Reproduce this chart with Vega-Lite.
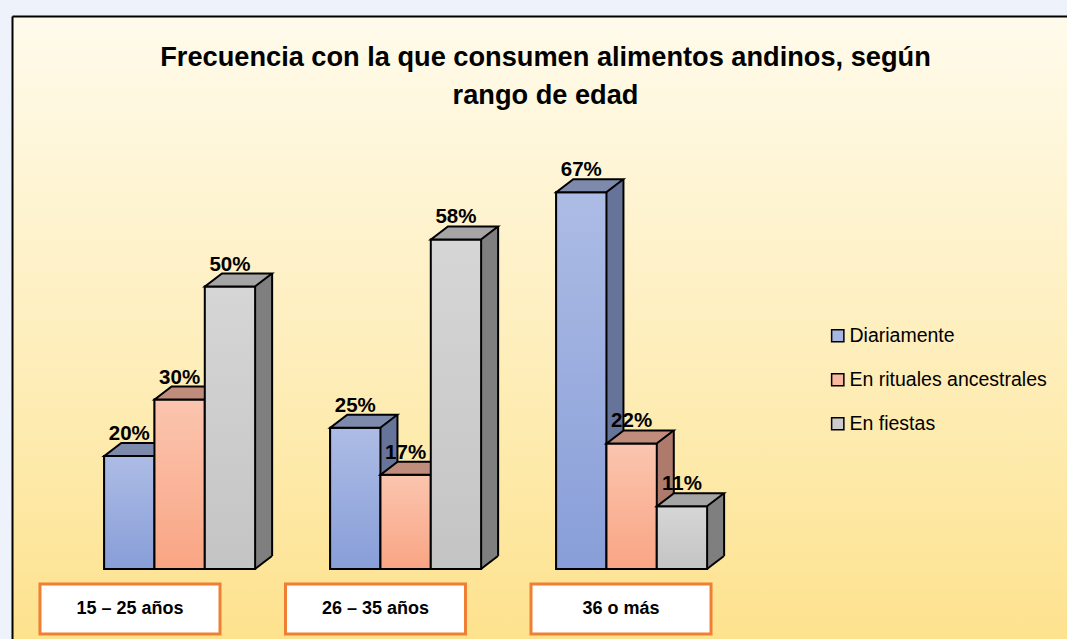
{
  "$schema": "https://vega.github.io/schema/vega-lite/v6.json",
  "width": 1055,
  "height": 623,
  "autosize": "none",
  "padding": {"left": 12, "top": 16, "right": 0, "bottom": 0},
  "background": "#eef3fb",
  "view": {
    "stroke": null,
    "fill": {"gradient": "linear", "x1": 0, "y1": 0, "x2": 0, "y2": 1,
      "stops": [{"offset": 0, "color": "#fffbec"}, {"offset": 0.5, "color": "#feefbf"}, {"offset": 1, "color": "#fde28e"}]}
  },
  "title": {
    "text": ["Frecuencia con la que consumen alimentos andinos, según", "rango de edad"],
    "font": "Liberation Sans", "fontSize": 27.2, "fontWeight": "bold", "color": "#000000",
    "lineHeight": 38, "anchor": "middle", "frame": "group", "dx": 6, "offset": -94
  },
  "data": {"values": [
    {"grupo": "15 – 25 años", "serie": "Diariamente", "valor": 0.20},
    {"grupo": "15 – 25 años", "serie": "En rituales ancestrales", "valor": 0.30},
    {"grupo": "15 – 25 años", "serie": "En fiestas", "valor": 0.50},
    {"grupo": "26 – 35 años", "serie": "Diariamente", "valor": 0.25},
    {"grupo": "26 – 35 años", "serie": "En rituales ancestrales", "valor": 0.1667},
    {"grupo": "26 – 35 años", "serie": "En fiestas", "valor": 0.5833},
    {"grupo": "36 o más", "serie": "Diariamente", "valor": 0.6667},
    {"grupo": "36 o más", "serie": "En rituales ancestrales", "valor": 0.2222},
    {"grupo": "36 o más", "serie": "En fiestas", "valor": 0.1111}
  ]},
  "resolve": {"scale": {"x": "independent", "xOffset": "independent"}},
  "layer": [
    {
      "data": {"values": [{"grupo": "15 – 25 años"}, {"grupo": "26 – 35 años"}, {"grupo": "36 o más"}]},
      "encoding": {
        "x": {"field": "grupo", "type": "nominal", "axis": null,
          "scale": {"domain": ["15 – 25 años", "26 – 35 años", "36 o más"], "paddingInner": 0.2668, "paddingOuter": 0.782, "align": 0.0729}}
      },
      "layer": [
        {"mark": {"type": "bar", "fill": "#ffffff", "stroke": "#ef7f33", "strokeWidth": 3},
         "encoding": {"y": {"datum": -0.02655, "type": "quantitative", "scale": {"domain": [-0.1239, 0.9788], "nice": false, "zero": false},
           "axis": {"orient": "left", "domain": true, "domainColor": "#000000", "domainWidth": 2, "labels": false, "ticks": false, "title": null, "grid": false}},
           "y2": {"datum": -0.115}}},
        {"mark": {"type": "text", "font": "Liberation Sans", "fontSize": 18, "fontWeight": "bold", "color": "#000000", "baseline": "middle"},
         "encoding": {"y": {"datum": -0.0708, "type": "quantitative"}, "text": {"field": "grupo"}}}
      ]
    },
    {
      "encoding": {
        "x": {"field": "grupo", "type": "nominal",
          "axis": {"orient": "top", "domain": true, "domainColor": "#000000", "domainWidth": 2, "labels": false, "ticks": false, "title": null, "grid": false},
          "scale": {"domain": ["15 – 25 años", "26 – 35 años", "36 o más"], "paddingInner": 0.3318, "paddingOuter": 1, "align": 0.2038}},
        "y": {"field": "valor", "type": "quantitative",
          "axis": {"orient": "left", "domain": true, "domainColor": "#000000", "domainWidth": 2, "labels": false, "ticks": false, "title": null, "grid": false}}
      },
      "layer": [
        {"mark": {"type": "bar", "stroke": "#000000", "strokeWidth": 1.5},
         "encoding": {
           "xOffset": {"field": "serie", "type": "nominal", "scale": {"domain": ["Diariamente", "En rituales ancestrales", "En fiestas"], "paddingInner": 0, "paddingOuter": 0}},
           "fill": {"field": "serie", "type": "nominal",
           "scale": {"domain": ["Diariamente", "En rituales ancestrales", "En fiestas"], "range": ["#a8b7e1", "#f9b9a1", "#cccccc"]},
           "legend": {"title": null, "orient": "none", "legendX": 816, "legendY": 310, "padding": 0,
             "symbolType": "square", "symbolSize": 150, "symbolStrokeColor": "#000000", "symbolStrokeWidth": 1.5,
             "labelFont": "Liberation Sans", "labelFontSize": 19.5, "labelColor": "#000000", "labelOffset": 2, "labelLimit": 400, "rowPadding": 23}}}},

        {"transform": [{"filter": "datum.serie == 'Diariamente'"}],
         "mark": {"type": "rule", "color": "#67749a", "strokeWidth": 17, "strokeCap": "butt", "xOffset": 8.5, "yOffset": -13, "y2Offset": -13},
         "encoding": {"x": {"field": "grupo", "type": "nominal", "bandPosition": 0.33333}, "y2": {"datum": 0}}},
        {"transform": [{"filter": "datum.serie == 'Diariamente'"}],
         "mark": {"type": "rule", "color": "#000000", "strokeWidth": 2, "strokeCap": "butt", "xOffset": 17, "yOffset": -13, "y2Offset": -13},
         "encoding": {"x": {"field": "grupo", "type": "nominal", "bandPosition": 0.33333}, "y2": {"datum": 0}}},
        {"transform": [{"filter": "datum.serie == 'Diariamente'"}],
         "mark": {"type": "point", "shape": "M 0.49 0.01 L 0.84 -0.26 L 0.83 -0.27 L 0.49 -0.27 Z", "size": 10000, "filled": true, "fill": "#67749a", "stroke": "transparent", "strokeWidth": 0, "opacity": 1},
         "encoding": {"xOffset": {"field": "serie", "type": "nominal"}, "y": {"datum": 0, "type": "quantitative"}}},
        {"transform": [{"filter": "datum.serie == 'Diariamente'"}],
         "mark": {"type": "point", "shape": "M 0.5 0 L 0.84 -0.26", "size": 10000, "filled": false, "fill": "transparent", "stroke": "#000000", "strokeWidth": 2, "opacity": 1},
         "encoding": {"xOffset": {"field": "serie", "type": "nominal"}, "y": {"datum": 0, "type": "quantitative"}}},
        {"transform": [{"filter": "datum.serie == 'Diariamente'"}],
         "mark": {"type": "bar", "stroke": "#000000", "strokeWidth": 2,
           "fill": {"gradient": "linear", "x1": 0, "y1": 0, "x2": 0, "y2": 1, "stops": [{"offset": 0, "color": "#adbce5"}, {"offset": 1, "color": "#889ed8"}]}},
         "encoding": {"xOffset": {"field": "serie", "type": "nominal"}}},
        {"transform": [{"filter": "datum.serie == 'Diariamente'"}],
         "mark": {"type": "point", "shape": "M -0.5 0 L 0.5 0 L 0.84 -0.26 L -0.16 -0.26 Z", "size": 10000, "filled": true, "fill": "#7d8aab", "stroke": "#000000", "strokeWidth": 2, "opacity": 1, "strokeJoin": "miter"},
         "encoding": {"xOffset": {"field": "serie", "type": "nominal"}}},

        {"transform": [{"filter": "datum.serie == 'En rituales ancestrales'"}],
         "mark": {"type": "rule", "color": "#ad7a6c", "strokeWidth": 17, "strokeCap": "butt", "xOffset": 8.5, "yOffset": -13, "y2Offset": -13},
         "encoding": {"x": {"field": "grupo", "type": "nominal", "bandPosition": 0.66667}, "y2": {"datum": 0}}},
        {"transform": [{"filter": "datum.serie == 'En rituales ancestrales'"}],
         "mark": {"type": "rule", "color": "#000000", "strokeWidth": 2, "strokeCap": "butt", "xOffset": 17, "yOffset": -13, "y2Offset": -13},
         "encoding": {"x": {"field": "grupo", "type": "nominal", "bandPosition": 0.66667}, "y2": {"datum": 0}}},
        {"transform": [{"filter": "datum.serie == 'En rituales ancestrales'"}],
         "mark": {"type": "point", "shape": "M 0.49 0.01 L 0.84 -0.26 L 0.83 -0.27 L 0.49 -0.27 Z", "size": 10000, "filled": true, "fill": "#ad7a6c", "stroke": "transparent", "strokeWidth": 0, "opacity": 1},
         "encoding": {"xOffset": {"field": "serie", "type": "nominal"}, "y": {"datum": 0, "type": "quantitative"}}},
        {"transform": [{"filter": "datum.serie == 'En rituales ancestrales'"}],
         "mark": {"type": "point", "shape": "M 0.5 0 L 0.84 -0.26", "size": 10000, "filled": false, "fill": "transparent", "stroke": "#000000", "strokeWidth": 2, "opacity": 1},
         "encoding": {"xOffset": {"field": "serie", "type": "nominal"}, "y": {"datum": 0, "type": "quantitative"}}},
        {"transform": [{"filter": "datum.serie == 'En rituales ancestrales'"}],
         "mark": {"type": "bar", "stroke": "#000000", "strokeWidth": 2,
           "fill": {"gradient": "linear", "x1": 0, "y1": 0, "x2": 0, "y2": 1, "stops": [{"offset": 0, "color": "#fbc5af"}, {"offset": 1, "color": "#f9a584"}]}},
         "encoding": {"xOffset": {"field": "serie", "type": "nominal"}}},
        {"transform": [{"filter": "datum.serie == 'En rituales ancestrales'"}],
         "mark": {"type": "point", "shape": "M -0.5 0 L 0.5 0 L 0.84 -0.26 L -0.16 -0.26 Z", "size": 10000, "filled": true, "fill": "#c08d7c", "stroke": "#000000", "strokeWidth": 2, "opacity": 1, "strokeJoin": "miter"},
         "encoding": {"xOffset": {"field": "serie", "type": "nominal"}}},

        {"transform": [{"filter": "datum.serie == 'En fiestas'"}],
         "mark": {"type": "rule", "color": "#7f7f7f", "strokeWidth": 17, "strokeCap": "butt", "xOffset": 8.5, "yOffset": -13, "y2Offset": -13},
         "encoding": {"x": {"field": "grupo", "type": "nominal", "bandPosition": 1}, "y2": {"datum": 0}}},
        {"transform": [{"filter": "datum.serie == 'En fiestas'"}],
         "mark": {"type": "rule", "color": "#000000", "strokeWidth": 2, "strokeCap": "butt", "xOffset": 17, "yOffset": -13, "y2Offset": -13},
         "encoding": {"x": {"field": "grupo", "type": "nominal", "bandPosition": 1}, "y2": {"datum": 0}}},
        {"transform": [{"filter": "datum.serie == 'En fiestas'"}],
         "mark": {"type": "point", "shape": "M 0.49 0.01 L 0.84 -0.26 L 0.83 -0.27 L 0.49 -0.27 Z", "size": 10000, "filled": true, "fill": "#7f7f7f", "stroke": "transparent", "strokeWidth": 0, "opacity": 1},
         "encoding": {"xOffset": {"field": "serie", "type": "nominal"}, "y": {"datum": 0, "type": "quantitative"}}},
        {"transform": [{"filter": "datum.serie == 'En fiestas'"}],
         "mark": {"type": "point", "shape": "M 0.5 0 L 0.84 -0.26", "size": 10000, "filled": false, "fill": "transparent", "stroke": "#000000", "strokeWidth": 2, "opacity": 1},
         "encoding": {"xOffset": {"field": "serie", "type": "nominal"}, "y": {"datum": 0, "type": "quantitative"}}},
        {"transform": [{"filter": "datum.serie == 'En fiestas'"}],
         "mark": {"type": "bar", "stroke": "#000000", "strokeWidth": 2,
           "fill": {"gradient": "linear", "x1": 0, "y1": 0, "x2": 0, "y2": 1, "stops": [{"offset": 0, "color": "#d6d6d6"}, {"offset": 1, "color": "#c4c4c4"}]}},
         "encoding": {"xOffset": {"field": "serie", "type": "nominal"}}},
        {"transform": [{"filter": "datum.serie == 'En fiestas'"}],
         "mark": {"type": "point", "shape": "M -0.5 0 L 0.5 0 L 0.84 -0.26 L -0.16 -0.26 Z", "size": 10000, "filled": true, "fill": "#a5a5a5", "stroke": "#000000", "strokeWidth": 2, "opacity": 1, "strokeJoin": "miter"},
         "encoding": {"xOffset": {"field": "serie", "type": "nominal"}}},

        {"mark": {"type": "text", "font": "Liberation Sans Narrow, Liberation Sans", "fontSize": 20.5, "fontWeight": "bold", "color": "#000000", "baseline": "alphabetic", "dy": -16},
         "encoding": {"xOffset": {"field": "serie", "type": "nominal"}, "text": {"field": "valor", "type": "quantitative", "format": ".0%"}}}
      ]
    }
  ]
}
